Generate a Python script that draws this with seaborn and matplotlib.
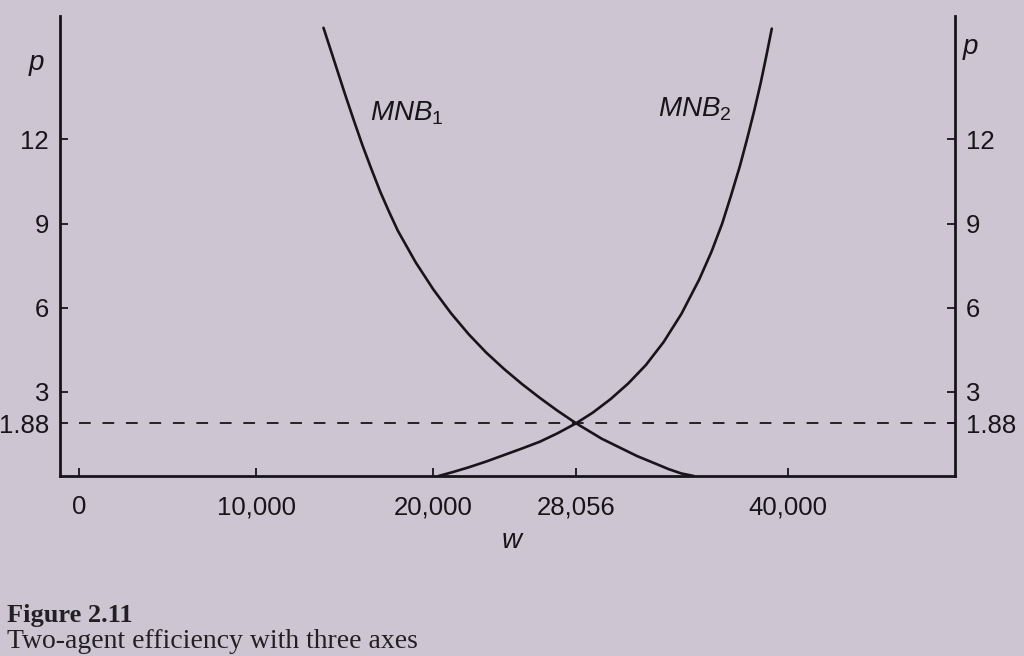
import pandas as pd
import seaborn as sns
import matplotlib.pyplot as plt

# values (w = wealth, p = price)
mnb1_w = [13800, 14350, 15000, 15500, 16000, 16500, 17000, 17500, 18000,
          19000, 20000, 21000, 22000, 23000, 24000, 25000, 26000, 27000,
          28056, 29500, 30500, 31500, 32500, 33300, 34000, 34700]
mnb1_p = [15.98, 14.91, 13.64, 12.70, 11.79, 10.95, 10.14, 9.42, 8.74,
          7.62, 6.65, 5.80, 5.05, 4.39, 3.81, 3.28, 2.79, 2.33,
          1.88, 1.33, 1.02, 0.71, 0.45, 0.24, 0.09, 0.0]

mnb2_w = [20300, 21100, 22000, 23000, 24000, 25000, 26000, 27000, 28056,
          29000, 30000, 31000, 32000, 33000, 34000, 35000, 35700, 36300,
          36800, 37300, 37700, 38100, 38470, 38800, 39100]
mnb2_p = [0.0, 0.14, 0.31, 0.52, 0.75, 0.98, 1.22, 1.52, 1.88,
          2.26, 2.74, 3.30, 3.96, 4.78, 5.78, 7.00, 8.00, 9.00,
          10.0, 11.05, 12.0, 13.0, 14.0, 15.0, 15.95]

w_star = 28056
p_star = 1.88

x_ticks = [0, 10000, 20000, 28056, 40000]
x_labels = ['0', '10,000', '20,000', '28,056', '40,000']
y_ticks = [1.88, 3, 6, 9, 12]
y_labels = ['1.88', '3', '6', '9', '12']

mnb1 = pd.DataFrame({'w': mnb1_w, 'p': mnb1_p})
mnb2 = pd.DataFrame({'w': mnb2_w, 'p': mnb2_p})

# Set Seaborn style, then fonts and tick directions
sns.set_theme(style='ticks')
bg = '#cdc5d2'
ink = '#17151a'
plt.rcParams['font.family'] = ['Liberation Sans', 'DejaVu Sans']
plt.rcParams['mathtext.fontset'] = 'custom'
plt.rcParams['mathtext.it'] = 'Liberation Sans:italic'
plt.rcParams['mathtext.rm'] = 'Liberation Sans'
plt.rcParams['xtick.direction'] = 'in'
plt.rcParams['ytick.direction'] = 'in'

fig = plt.figure(figsize=(10.24, 6.56), dpi=100, facecolor=bg)
ax = fig.add_axes([60 / 1024, 180 / 656, 895 / 1024, 460 / 656])
ax.set_facecolor(bg)

x_lo, x_hi = -1070, 49440
ax.set_xlim(x_lo, x_hi)
ax.set_ylim(0, 16.4)

# the two marginal net benefit curves
sns.lineplot(data=mnb1, x='w', y='p', ax=ax, color=ink, linewidth=1.9, sort=False)
sns.lineplot(data=mnb2, x='w', y='p', ax=ax, color=ink, linewidth=1.9, sort=False)

# dashed price line
ax.hlines(p_star, 0, x_hi, colors=ink, linewidth=1.3, linestyles=(0, (6.5, 6.5)))

# spines
for side in ['left', 'right', 'bottom']:
    ax.spines[side].set_visible(True)
    ax.spines[side].set_linewidth(2.0)
    ax.spines[side].set_color(ink)
ax.spines['top'].set_visible(False)

ax.set_xticks(x_ticks)
ax.set_xticklabels(x_labels)
ax.set_yticks(y_ticks)
ax.set_yticklabels(y_labels)
ax.tick_params(axis='x', direction='in', length=6, width=1.3, pad=14,
               labelsize=18.5, colors=ink)
ax.tick_params(axis='y', direction='in', length=6, width=1.3, pad=8,
               labelsize=18.5, colors=ink, left=True, right=True,
               labelleft=True, labelright=True)

ax.set_xlabel('')
ax.set_ylabel('')

# axis letters and curve labels
ax.text(-0.026, 0.898, 'p', transform=ax.transAxes, fontsize=20,
        style='italic', color=ink, ha='center', va='center')
ax.text(1.017, 0.933, 'p', transform=ax.transAxes, fontsize=20,
        style='italic', color=ink, ha='center', va='center')
ax.text(24440, -0.142, 'w', transform=ax.get_xaxis_transform(), fontsize=20,
        style='italic', color=ink, ha='center', va='center')
ax.text(16420, 12.95, r'$MNB_1$', fontsize=20, color=ink, ha='left', va='center')
ax.text(32680, 13.06, r'$MNB_2$', fontsize=20, color=ink, ha='left', va='center')

# caption
fig.text(0.0065, 0.0523, 'Figure 2.11', fontsize=19, fontweight='bold',
         family=['Liberation Serif', 'DejaVu Serif'], color='#222024', va='baseline')
fig.text(0.0065, 0.0122, 'Two-agent efficiency with three axes', fontsize=20,
         family=['Liberation Serif', 'DejaVu Serif'], color='#222024', va='baseline')

plt.savefig('out.png', dpi=100, facecolor=bg)
plt.close()
